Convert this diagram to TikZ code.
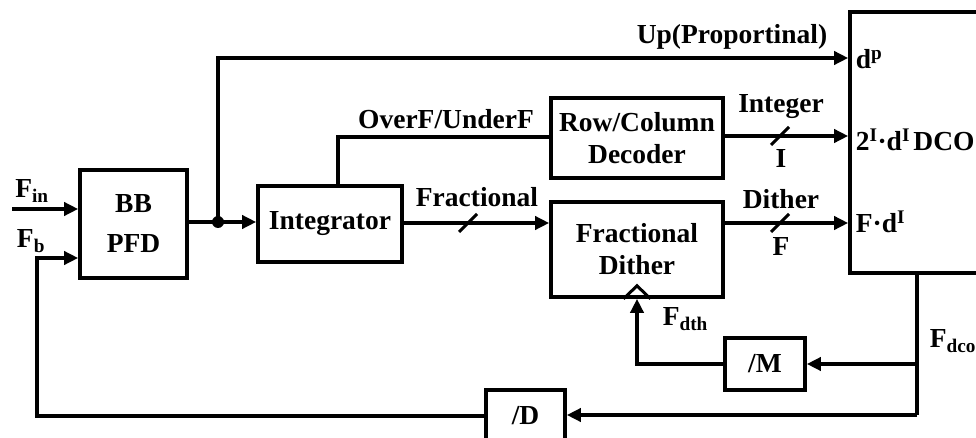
\documentclass[tikz,border=0pt]{standalone}
\usepackage{fontspec}
\setmainfont{Liberation Serif}
\usetikzlibrary{arrows.meta,calc}
\begin{document}
\begin{tikzpicture}[x=1pt,y=-1pt,line width=3.6pt,
  font=\bfseries\fontsize{27.5}{31}\selectfont,
  blk/.style={draw,line width=3.6pt,rectangle,align=center,inner sep=0pt},
  arr/.style={-{Triangle[length=14pt,width=13pt]}},
  lbl/.style={inner sep=0pt,align=center},
  slash/.style={line width=3pt}]
\useasboundingbox (0,0) rectangle (976,438);
\clip (0,0) rectangle (976,438);
% blocks
\node[blk,minimum width=107pt,minimum height=108pt] (pfd) at (133.5,224) {BB\\[9pt]PFD};
\node[blk,minimum width=144pt,minimum height=76pt] (integ) at (330,224) {Integrator};
\node[blk,minimum width=172pt,minimum height=80pt] (rc) at (637,138) {Row/Column\\[1pt]Decoder};
\node[blk,minimum width=172pt,minimum height=95pt] (frac) at (637,249.5) {Fractional\\[1pt]Dither};
\node[blk,minimum width=180pt,minimum height=261pt] (dco) at (940,142.5) {};
\node[blk,minimum width=80pt,minimum height=52pt] (m) at (765,364) {/M};
\node[blk,minimum width=79pt,minimum height=52pt] (d) at (525.5,416) {/D};
\node[lbl] (dcotxt) at (944,142) {DCO};
% triangle on Fractional Dither
\draw[line width=3pt] ($(frac.south)+(-13.5,0)$) -- ++(13.5,-13) -- ++(13.5,13);
% coordinates
\coordinate (fin) at (12,209);
\coordinate (fbc) at (37,258);
\coordinate (dot) at (218,222);
\coordinate (upy) at (0,58);
\coordinate (ov) at (338,137);
\coordinate (fy) at (0,223);
\coordinate (iy) at (0,136);
\coordinate (brk) at (917,415);
% connectors
\draw[arr] (fin) -- (fin -| pfd.west);
\draw[arr] (d.west) -| (fbc) -- (fbc -| pfd.west);
\draw (dot -| pfd.east) -- (dot);
\draw[arr] (dot) -- (dot -| integ.west);
\fill (dot) circle (6pt);
\draw[arr] (dot) |- (upy -| dco.west);
\draw (ov |- integ.north) |- (ov -| rc.west);
\draw[arr] (integ.east |- fy) -- (frac.west |- fy);
\draw[arr] (rc.east |- iy) -- (dco.west |- iy);
\draw[arr] (frac.east |- fy) -- (dco.west |- fy);
\draw (brk |- dco.south) -- (brk);
\draw[arr] (brk) -- (brk -| d.east);
\draw[arr] (brk |- m) -- (m.east);
\draw[arr] (m.west) -| (frac.south);
% slashes
\draw[slash] (459,232) -- (477,214);
\draw[slash] (771,145) -- (789,127);
\draw[slash] (771,232) -- (789,214);
% labels
\node[lbl] (lfin) at (32,191) {F\textsubscript{in}};
\node[lbl] (lfb) at (31,241) {F\textsubscript{b}};
\node[lbl,anchor=east] (lup) at (829,37) {Up(Proportinal)};
\node[lbl] (lov) at (446,119) {OverF/UnderF};
\node[lbl] (lfr) at (477,197) {Fractional};
\node[lbl] (lint) at (781,107) {Integer};
\node[lbl] (li) at (781,158) {I};
\node[lbl] (ldi) at (781,199) {Dither};
\node[lbl] (lf) at (781,246) {F};
\node[lbl,anchor=west] (ldp) at (854,59) {d\textsuperscript{p}};
\node[lbl,anchor=west] (l2i) at (854,140) {2\textsuperscript{I}·d\textsuperscript{I}};
\node[lbl,anchor=west] (lfd) at (854,222) {F·d\textsuperscript{I}};
\node[lbl,anchor=west] (lfdth) at (661,319) {F\textsubscript{dth}};
\node[lbl,anchor=west] (lfdco) at (928,341) {F\textsubscript{dco}};
\end{tikzpicture}
\end{document}
